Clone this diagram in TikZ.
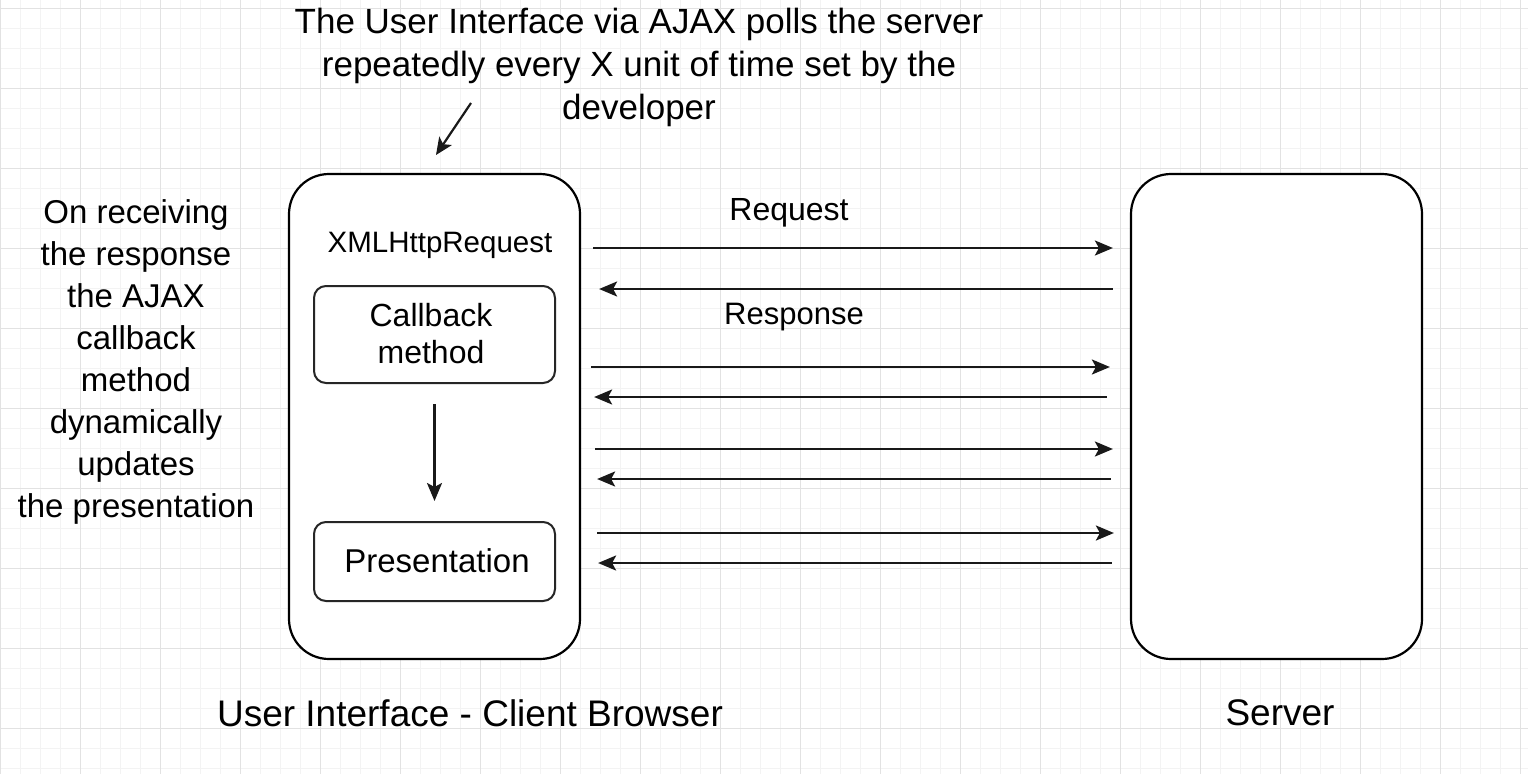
\documentclass[tikz,border=0pt]{standalone}
\usepackage{fontspec}
\setmainfont{Liberation Sans}
\usetikzlibrary{arrows.meta,calc}
\definecolor{gridminor}{HTML}{F3F3F3}
\definecolor{gridmajor}{HTML}{E2E2E2}
\tikzset{
  box/.style={draw=black, line width=2.2pt, fill=white, rounded corners=40pt,
    minimum width=291pt, minimum height=485pt, inner sep=0pt},
  inbox/.style={draw=black!85, line width=2pt, fill=white, rounded corners=12pt,
    minimum width=241pt, inner sep=0pt},
  lbl/.style={text=black, align=center, inner sep=0pt},
  arr/.style={line width=2.4pt, draw=black!90, -{Stealth[length=18pt,width=15pt,inset=4pt]}},
}
\begin{document}
\begin{tikzpicture}[x=1pt,y=-1pt]
\useasboundingbox (0,0) rectangle (1528,774);
\fill[white] (0,0) rectangle (1528,774);
% grid
\foreach \i in {0,20,...,1520} \draw[gridminor, line width=0.8pt] (\i,0) -- (\i,774);
\foreach \j in {8,28,...,774} \draw[gridminor, line width=0.8pt] (0,\j) -- (1528,\j);
\foreach \i in {0,80,...,1520} \draw[gridmajor, line width=1pt] (\i,0) -- (\i,774);
\foreach \j in {8,88,...,774} \draw[gridmajor, line width=1pt] (0,\j) -- (1528,\j);

% main boxes
\node[box] (ui) at (434.5,416.5) {};
\node[box] (server) at (1276.5,416.5) {};

% inner boxes
\node[inbox, minimum height=97pt] (cb) at (434.5,334.5) {};
\node[lbl, font=\fontsize{32}{37}\selectfont] (cbt) at (431,334) {Callback\\method};
\node[inbox, minimum height=79pt] (pres) at (434.5,561.5) {};
\node[lbl, font=\fontsize{33}{38}\selectfont] (prest) at (437,561) {Presentation};
\node[lbl, font=\fontsize{29.5}{34}\selectfont] (xhr) at (440,245) {XMLHttpRequest};

\draw[arr, shorten <=20pt, shorten >=20pt] (cb.south) -- (pres.north);

% request / response arrows
\foreach \yr/\yl/\sa/\sb/\sc/\sd in {248/289/12/17/17/18, 367/397/10/20/23/13, 449/479/14/17/19/16, 533/563/16/16/18/17}{
  \draw[arr, shorten <=\sa pt, shorten >=\sb pt] (ui.east |- 0,\yr) -- (server.west |- 0,\yr);
  \draw[arr, shorten <=\sc pt, shorten >=\sd pt] (server.west |- 0,\yl) -- (ui.east |- 0,\yl);
}
\node[lbl, font=\fontsize{32}{37}\selectfont] (req) at (789,213) {Request};
\node[lbl, font=\fontsize{31}{36}\selectfont] (resp) at (794,317) {Response};

% top note
\node[lbl, font=\fontsize{35}{43}\selectfont] (note) at (639,67)
  {The User Interface via AJAX polls the server\\repeatedly every X unit of time set by the\\developer};
\coordinate (nfrom) at (471,103);
\coordinate (nto) at (436,155);
\draw[arr, line width=2.2pt, -{Stealth[length=17pt,width=15pt,inset=4pt]}] (nfrom) -- (nto);

% left note
\node[lbl, font=\fontsize{33}{42}\selectfont] (left) at (136,362)
  {On receiving\\the response\\the AJAX\\callback\\method\\dynamically\\updates\\the presentation};

% captions
\node[lbl, font=\fontsize{37}{40}\selectfont] (uicap) at (470,713) {User Interface - Client Browser};
\node[lbl, font=\fontsize{37}{40}\selectfont] (svcap) at (1280,713) {Server};
\end{tikzpicture}
\end{document}
